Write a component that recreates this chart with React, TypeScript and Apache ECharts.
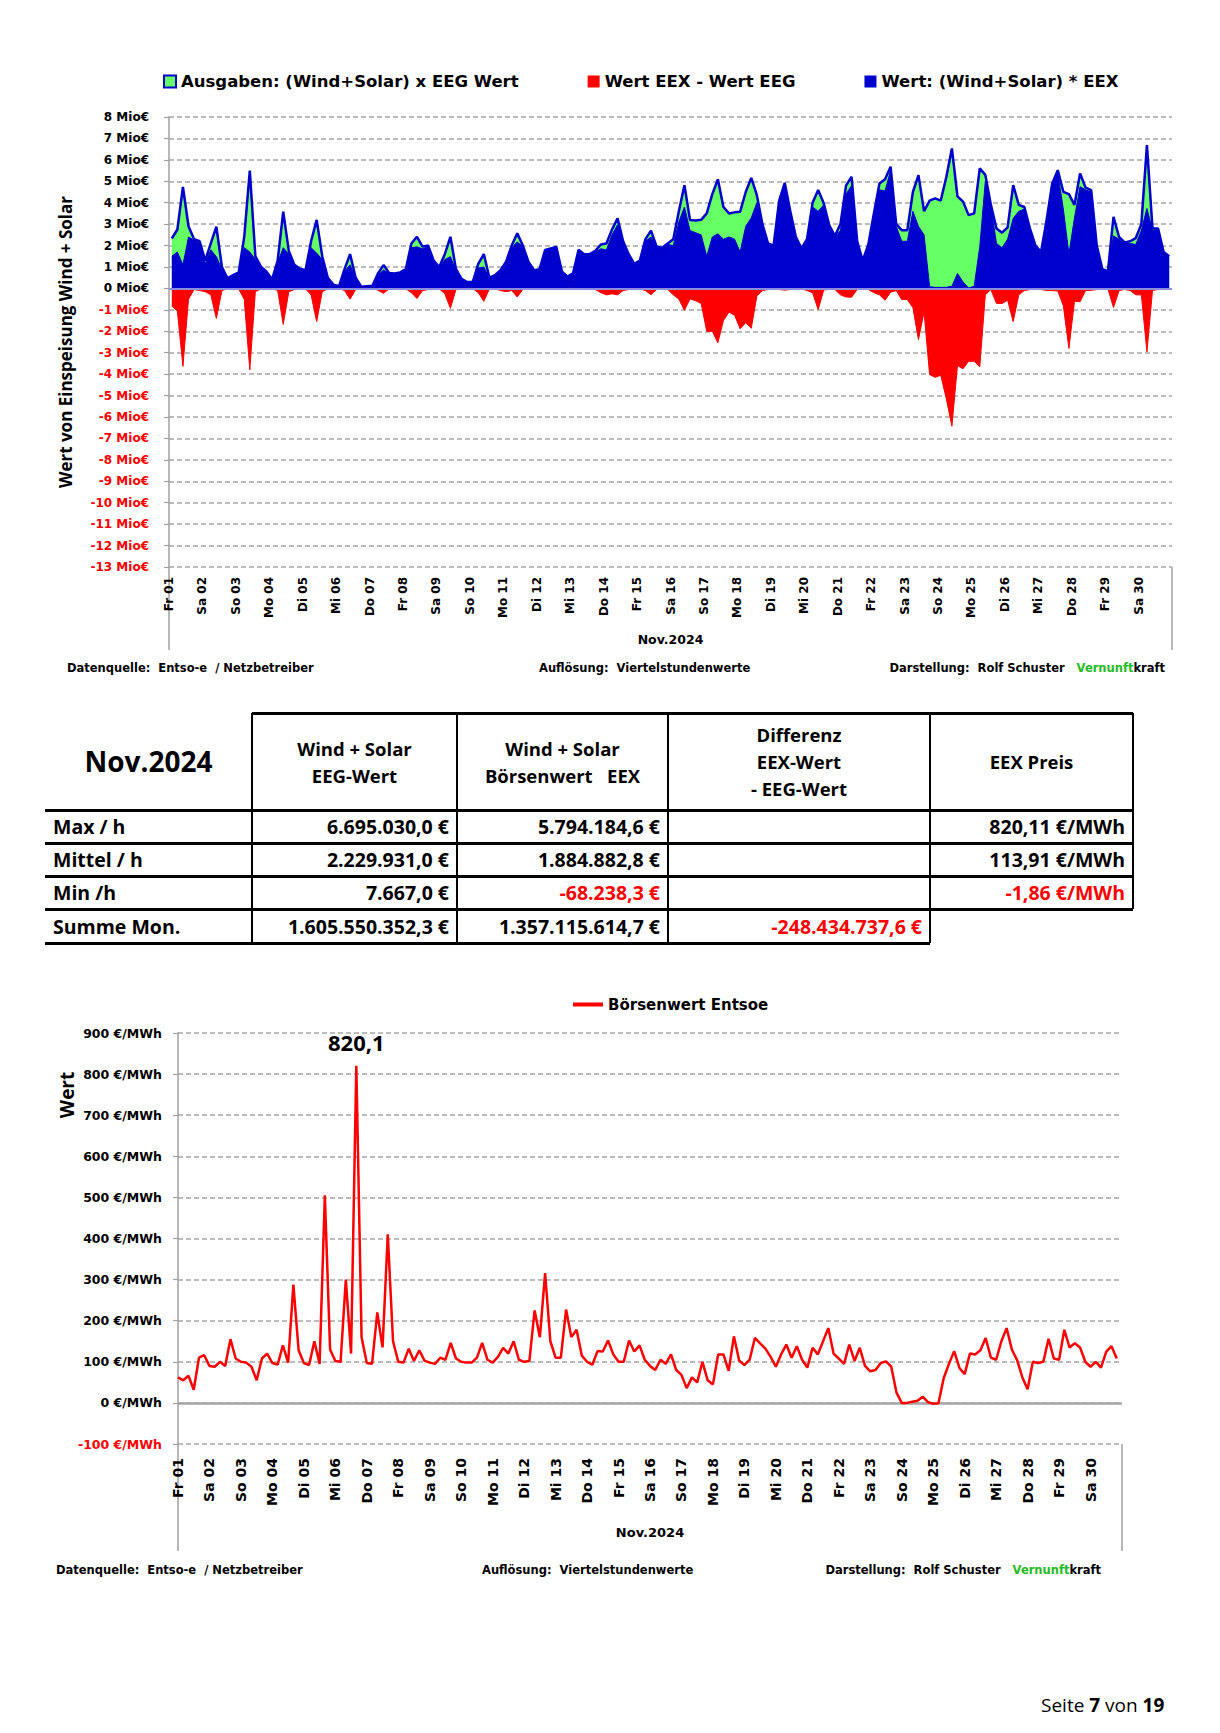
import React, { useEffect, useRef } from "react";
import * as echarts from "echarts";

// ---------- DATA ----------
const DAY_LABELS = [
  "Fr 01", "Sa 02", "So 03", "Mo 04", "Di 05", "Mi 06", "Do 07", "Fr 08", "Sa 09", "So 10",
  "Mo 11", "Di 12", "Mi 13", "Do 14", "Fr 15", "Sa 16", "So 17", "Mo 18", "Di 19", "Mi 20",
  "Do 21", "Fr 22", "Sa 23", "So 24", "Mo 25", "Di 26", "Mi 27", "Do 28", "Fr 29", "Sa 30",
];
const SAMPLES_PER_DAY = 6; // 4-hour samples

// Chart 1 (Mio €), samples at 02,06,10,14,18,22 h of each day
const EEG_WERT = [
  2.33, 2.75, 4.74, 2.9, 2.3, 2.2,
  1.3, 2.1, 2.88, 1.0, 0.47, 0.62,
  0.75, 2.4, 5.5, 1.5, 1.02, 0.78,
  0.42, 1.3, 3.58, 1.75, 1.1, 0.92,
  0.85, 2.2, 3.2, 1.5, 0.5, 0.18,
  0.1, 0.9, 1.6, 0.5, 0.08, 0.1,
  0.12, 0.7, 1.09, 0.72, 0.7, 0.75,
  0.9, 2.1, 2.41, 1.95, 2.0, 1.3,
  1.0, 1.6, 2.41, 0.9, 0.45, 0.3,
  0.3, 1.15, 1.6, 0.5, 0.62, 0.85,
  1.25, 2.0, 2.57, 2.0, 1.25, 0.85,
  0.9, 1.8, 1.87, 1.94, 0.8, 0.55,
  0.7, 1.8, 1.6, 1.6, 1.75, 2.05,
  2.1, 2.75, 3.27, 2.2, 1.6, 1.15,
  1.3, 2.3, 2.69, 1.95, 1.9, 2.1,
  2.3, 3.6, 4.82, 3.19, 3.17, 3.2,
  3.5, 4.4, 5.09, 3.8, 3.5, 3.55,
  3.58, 4.5, 5.16, 4.35, 3.0, 2.1,
  2.0, 4.1, 4.93, 3.6, 2.4, 1.87,
  2.3, 4.0, 4.59, 3.97, 2.95, 2.45,
  3.0, 4.8, 5.21, 2.2, 1.3, 2.05,
  3.5, 4.9, 5.1, 5.68, 3.0, 2.72,
  2.72, 4.5, 5.29, 3.6, 4.1, 4.2,
  4.1, 5.2, 6.53, 4.3, 4.05, 3.42,
  3.5, 5.6, 5.3, 3.9, 2.8, 2.6,
  2.85, 4.82, 3.9, 3.8, 2.8, 2.0,
  1.7, 3.2, 4.9, 5.52, 4.51, 4.4,
  3.9, 5.37, 4.7, 4.59, 2.0, 0.9,
  0.8, 3.34, 2.4, 2.15, 2.2, 2.35,
  3.0, 6.69, 2.8, 2.8, 1.7, 1.5,
];
const EEX_WERT = [
  1.5, 1.7, 1.1, 2.4, 2.25, 2.1,
  1.15, 1.8, 1.48, 0.9, 0.45, 0.6,
  0.72, 1.9, 1.7, 1.35, 1.0, 0.77,
  0.41, 1.2, 1.9, 1.6, 1.05, 0.9,
  0.83, 1.9, 1.65, 1.35, 0.48, 0.17,
  0.1, 0.8, 1.1, 0.45, 0.08, 0.1,
  0.12, 0.62, 0.86, 0.7, 0.68, 0.73,
  0.88, 1.9, 1.94, 1.85, 1.95, 1.25,
  0.98, 1.35, 1.48, 0.85, 0.44, 0.3,
  0.3, 0.95, 1.0, 0.48, 0.6, 0.75,
  1.1, 1.9, 2.17, 1.95, 1.22, 0.82,
  0.85, 1.75, 1.85, 1.9, 0.78, 0.55,
  0.7, 1.75, 1.55, 1.55, 1.7, 1.85,
  1.8, 2.5, 2.97, 2.1, 1.55, 1.12,
  1.28, 2.2, 2.4, 1.9, 1.85, 2.05,
  2.0, 3.1, 3.8, 2.7, 2.6, 2.5,
  1.5, 2.4, 2.55, 2.3, 2.4, 2.3,
  1.7, 2.9, 3.3, 4.0, 2.9, 2.05,
  2.0, 4.05, 4.85, 3.55, 2.38, 1.85,
  2.2, 3.8, 3.6, 3.9, 2.9, 2.4,
  2.7, 4.4, 4.8, 2.15, 1.28, 2.0,
  3.3, 4.6, 4.55, 5.5, 2.9, 2.2,
  2.2, 3.6, 2.9, 2.5, 0.08, 0.05,
  0.05, 0.05, 0.1, 0.7, 0.3, 0.02,
  0.1, 1.94, 5.0, 3.85, 2.1, 1.9,
  2.3, 3.27, 3.6, 3.7, 2.75, 1.95,
  1.65, 3.1, 4.8, 5.4, 3.7, 1.6,
  3.3, 4.75, 4.6, 4.5, 1.95, 0.88,
  0.78, 2.45, 2.3, 2.1, 2.1, 2.05,
  2.7, 3.73, 2.7, 2.75, 1.65, 1.45,
];

// Chart 2 (€/MWh), samples at 00,04,08,12,16,20 h of each day
const PRICE = [
  62, 55, 66, 32, 110, 116,
  90, 88, 100, 90, 155, 108,
  100, 98, 88, 55, 108, 120,
  97, 93, 140, 98, 288, 128,
  97, 92, 150, 95, 505, 130,
  102, 100, 300, 120, 820.1, 160,
  97, 95, 220, 135, 410, 150,
  100, 98, 132, 102, 128, 103,
  98, 95, 110, 105, 146, 108,
  100, 98, 98, 110, 146, 105,
  98, 112, 134, 120, 150, 105,
  100, 102, 225, 160, 316, 150,
  110, 110, 227, 160, 178, 115,
  100, 93, 126, 125, 152, 118,
  100, 100, 152, 125, 140, 105,
  90, 80, 105, 95, 118, 80,
  68, 36, 62, 50, 100, 55,
  45, 118, 118, 78, 162, 103,
  92, 105, 158, 145, 132, 112,
  88, 118, 142, 110, 138, 105,
  86, 134, 118, 150, 182, 120,
  108, 95, 142, 102, 134, 90,
  77, 80, 97, 101, 88, 25,
  0, 0, 3, 5, 15, 2,
  -2, -1, 60, 95, 126, 85,
  70, 120, 118, 128, 158, 110,
  105, 150, 182, 130, 104, 62,
  33, 100, 97, 100, 156, 108,
  105, 178, 135, 145, 135, 100,
  88, 100, 86, 125, 138, 108,
];

const SERIES_EEG = "Ausgaben: (Wind+Solar) x EEG Wert";
const SERIES_DIFF = "Wert EEX - Wert EEG";
const SERIES_EEX = "Wert: (Wind+Solar) * EEX";
const SERIES_PRICE = "Börsenwert Entsoe";

// Table
const TABLE_TITLE = "Nov.2024";
const TABLE_HEADERS = [
  ["Wind + Solar", "EEG-Wert"],
  ["Wind + Solar", "Börsenwert   EEX"],
  ["Differenz", "EEX-Wert", "- EEG-Wert"],
  ["EEX Preis"],
];
const ROW_LABELS = ["Max / h", "Mittel / h", "Min /h", "Summe Mon."];
const COL_EEG = ["6.695.030,0 €", "2.229.931,0 €", "7.667,0 €", "1.605.550.352,3 €"];
const COL_EEX = ["5.794.184,6 €", "1.884.882,8 €", "-68.238,3 €", "1.357.115.614,7 €"];
const COL_DIFF = ["", "", "", "-248.434.737,6 €"];
const COL_PRICE = ["820,11 €/MWh", "113,91 €/MWh", "-1,86 €/MWh", ""];

// ---------- STYLE ----------
const AX_FONT = "'DejaVu Sans', sans-serif";
const OS_FONT = "'Open Sans', sans-serif";
const GRID_COLOR = "#a6a6a6";
const AXIS_COLOR = "#a0a0a0";
const BLUE = "#0000cc";
const GREEN = "#66ff66";
const RED = "#ff0000";

function txt(x: number, y: number, text: string, opts: any = {}) {
  return {
    type: "text",
    x,
    y,
    silent: true,
    style: {
      text,
      fill: opts.fill || "#000",
      fontFamily: opts.fontFamily || AX_FONT,
      fontWeight: opts.fontWeight || "bold",
      fontSize: opts.fontSize || 11.5,
      textAlign: opts.align || "left",
      align: opts.align || "left",
      textVerticalAlign: "middle",
      verticalAlign: "middle",
      rich: opts.rich,
    },
  };
}

function footer(y: number, xLeft: number, xMid: number, xRight: number) {
  const rich = {
    a: { fontFamily: AX_FONT, fontWeight: "bold", fontSize: 11.5, fill: "#000", color: "#000" },
    g: { fontFamily: AX_FONT, fontWeight: "bold", fontSize: 11.5, fill: "#22bb22", color: "#22bb22" },
  };
  return [
    txt(xLeft, y, "Datenquelle:  Entso-e  / Netzbetreiber"),
    txt(xMid, y, "Auflösung:  Viertelstundenwerte"),
    txt(xRight, y, "{a|Darstellung:  Rolf Schuster   }{g|Vernunft}{a|kraft}", { align: "right", rich }),
  ];
}

function vline(x: number, y1: number, y2: number) {
  return {
    type: "line",
    silent: true,
    shape: { x1: x, y1, x2: x, y2 },
    style: { stroke: AXIS_COLOR, lineWidth: 1.5 },
  };
}

function useChart(option: any) {
  const ref = useRef<HTMLDivElement | null>(null);
  useEffect(() => {
    if (!ref.current) return;
    const chart = echarts.init(ref.current, null, { renderer: "svg" });
    chart.setOption(option);
    return () => chart.dispose();
  }, []);
  return ref;
}

function Chart1() {
  const xAt = (i: number) => (i + 0.5) / SAMPLES_PER_DAY;
  const eegData = EEG_WERT.map((v, i) => [xAt(i), v]);
  const eexData = EEX_WERT.map((v, i) => [xAt(i), v]);
  const diffData = EEX_WERT.map((v, i) => [xAt(i), Math.round((v - EEG_WERT[i]) * 1000) / 1000]);

  const gl = 169, gt = 117, gw = 1003, gh = 450;
  const option = {
    animation: false,
    legend: {
      left: 158,
      top: 68,
      itemGap: 69,
      itemWidth: 12,
      itemHeight: 12,
      textStyle: { fontFamily: AX_FONT, fontWeight: "bold", fontSize: 16.5, color: "#000" },
      data: [
        { name: SERIES_EEG, icon: "rect", itemStyle: { color: GREEN, borderColor: BLUE, borderWidth: 2 } },
        { name: SERIES_DIFF, icon: "rect", itemStyle: { color: RED, borderWidth: 0 } },
        { name: SERIES_EEX, icon: "rect", itemStyle: { color: BLUE, borderWidth: 0 } },
      ],
    },
    grid: { left: gl, top: gt, width: gw, height: gh },
    xAxis: {
      type: "value",
      min: 0,
      max: 30,
      interval: 1,
      axisLine: { show: false },
      axisTick: { show: false },
      splitLine: { show: false },
      axisLabel: {
        rotate: 90,
        margin: 10,
        fontFamily: AX_FONT,
        fontWeight: "bold",
        fontSize: 12,
        color: "#000",
        showMaxLabel: false,
        formatter: (v: number) => DAY_LABELS[Math.round(v)] ?? "",
      },
      name: "Nov.2024",
      nameLocation: "middle",
      nameGap: 66,
      nameTextStyle: { fontFamily: AX_FONT, fontWeight: "bold", fontSize: 12.5, color: "#000" },
    },
    yAxis: {
      type: "value",
      min: -13,
      max: 8,
      interval: 1,
      name: "Wert von Einspeisung Wind + Solar",
      nameLocation: "middle",
      nameGap: 95,
      nameTextStyle: { fontFamily: OS_FONT, fontWeight: "bold", fontSize: 17, color: "#000" },
      axisLine: { show: true, lineStyle: { color: AXIS_COLOR, width: 1.5 } },
      axisTick: { show: true, length: 5, lineStyle: { color: AXIS_COLOR, width: 1.2 } },
      axisLabel: {
        margin: 20,
        fontFamily: AX_FONT,
        fontWeight: "bold",
        fontSize: 12,
        color: (v: any) => (Number(v) < 0 ? RED : "#000"),
        formatter: (v: number) => `${v} Mio€`,
      },
      splitLine: { show: true, lineStyle: { type: [5, 3], color: GRID_COLOR, width: 1.5 } },
    },
    series: [
      {
        name: SERIES_EEG,
        type: "line",
        data: eegData,
        showSymbol: false,
        symbol: "none",
        z: 2,
        itemStyle: { color: GREEN },
        lineStyle: { color: BLUE, width: 2.5 },
        areaStyle: { color: GREEN, opacity: 1 },
      },
      {
        name: SERIES_EEX,
        type: "line",
        data: eexData,
        showSymbol: false,
        symbol: "none",
        z: 3,
        itemStyle: { color: BLUE },
        lineStyle: { color: BLUE, width: 1 },
        areaStyle: { color: BLUE, opacity: 1 },
      },
      {
        name: SERIES_DIFF,
        type: "line",
        data: diffData,
        showSymbol: false,
        symbol: "none",
        z: 4,
        itemStyle: { color: RED },
        lineStyle: { color: RED, width: 1 },
        areaStyle: { color: RED, opacity: 1 },
        markLine: {
          silent: true,
          symbol: "none",
          label: { show: false },
          lineStyle: { color: "#8c8cdc", width: 2, type: "solid" },
          data: [{ yAxis: 0 }],
        },
      },
    ],
    graphic: [
      vline(gl, gt + gh, 650),
      vline(gl + gw, gt + gh, 650),
      ...footer(668, 67, 539, 1165),
    ],
  };
  const ref = useChart(option);
  return <div ref={ref} style={{ position: "absolute", left: 0, top: 0, width: 1220, height: 700 }} />;
}

function Chart2() {
  const priceData = PRICE.map((v, i) => [i / SAMPLES_PER_DAY, v]);
  const gl = 178, gt = 73, gw = 944, gh = 411;
  const option = {
    animation: false,
    legend: {
      left: 568,
      top: 32,
      itemWidth: 30,
      itemHeight: 4,
      textStyle: { fontFamily: AX_FONT, fontWeight: "bold", fontSize: 15, color: "#000" },
      data: [{ name: SERIES_PRICE, icon: "rect", itemStyle: { color: RED } }],
    },
    grid: { left: gl, top: gt, width: gw, height: gh },
    xAxis: {
      type: "value",
      min: 0,
      max: 30,
      interval: 1,
      axisLine: { show: false },
      axisTick: { show: false },
      splitLine: { show: false },
      axisLabel: {
        rotate: 90,
        margin: 14,
        fontFamily: AX_FONT,
        fontWeight: "bold",
        fontSize: 14,
        color: "#000",
        showMaxLabel: false,
        formatter: (v: number) => DAY_LABELS[Math.round(v)] ?? "",
      },
      name: "Nov.2024",
      nameLocation: "middle",
      nameGap: 82,
      nameTextStyle: { fontFamily: AX_FONT, fontWeight: "bold", fontSize: 13, color: "#000" },
    },
    yAxis: {
      type: "value",
      min: -100,
      max: 900,
      interval: 100,
      axisLine: { show: true, lineStyle: { color: AXIS_COLOR, width: 1.5 } },
      axisTick: { show: true, length: 5, lineStyle: { color: AXIS_COLOR, width: 1.2 } },
      axisLabel: {
        margin: 16,
        fontFamily: AX_FONT,
        fontWeight: "bold",
        fontSize: 12.5,
        color: (v: any) => (Number(v) < 0 ? RED : "#000"),
        formatter: (v: number) => `${v} €/MWh`,
      },
      splitLine: { show: true, lineStyle: { type: [5, 3], color: GRID_COLOR, width: 1.5 } },
    },
    series: [
      {
        name: SERIES_PRICE,
        type: "line",
        data: priceData,
        showSymbol: false,
        symbol: "none",
        z: 3,
        itemStyle: { color: RED },
        lineStyle: { color: RED, width: 2.5 },
        markLine: {
          silent: true,
          symbol: "none",
          label: { show: false },
          z: 1,
          lineStyle: { color: "#a6a6a6", width: 2.5, type: "solid" },
          data: [{ yAxis: 0 }],
        },
        markPoint: {
          symbol: "circle",
          symbolSize: 1,
          silent: true,
          itemStyle: { color: "rgba(0,0,0,0)" },
          label: {
            show: true,
            position: "top",
            distance: 12,
            fontFamily: OS_FONT,
            fontWeight: "bold",
            fontSize: 22,
            color: "#000",
            formatter: (p: any) => String(p.value).replace(".", ","),
          },
          data: [{ type: "max", valueIndex: 1 }],
        },
      },
    ],
    graphic: [
      vline(gl, gt + gh, 591),
      vline(gl + gw, gt + gh, 591),
      {
        type: "text",
        x: 67,
        y: 135,
        rotation: Math.PI / 2,
        silent: true,
        style: {
          text: "Wert",
          fill: "#000",
          fontFamily: OS_FONT,
          fontWeight: "bold",
          fontSize: 19,
          textAlign: "center",
          align: "center",
          textVerticalAlign: "middle",
          verticalAlign: "middle",
        },
      },
      ...footer(610, 56, 482, 1101),
    ],
  };
  const ref = useChart(option);
  return <div ref={ref} style={{ position: "absolute", left: 0, top: 960, width: 1220, height: 640 }} />;
}

const C = [45, 252, 457, 668, 930, 1133];
const R = [713, 810, 843, 876, 909, 943];

function HLine({ x1, x2, y }: { x1: number; x2: number; y: number }) {
  return <div style={{ position: "absolute", left: x1, top: y - 1.5, width: x2 - x1, height: 3, background: "#000" }} />;
}
function VLine({ x, y1, y2 }: { x: number; y1: number; y2: number }) {
  return <div style={{ position: "absolute", left: x - 0.75, top: y1, width: 1.5, height: y2 - y1, background: "#000" }} />;
}

function Cell({ x1, x2, y1, y2, children, align = "right", size = 19.5, color = "#000" }: any) {
  return (
    <div
      style={{
        position: "absolute",
        left: x1,
        top: y1,
        width: x2 - x1,
        height: y2 - y1,
        display: "flex",
        alignItems: "center",
        justifyContent: align === "right" ? "flex-end" : align === "center" ? "center" : "flex-start",
        padding: align === "right" ? "0 8px 0 0" : align === "left" ? "0 0 0 8px" : 0,
        boxSizing: "border-box",
        fontFamily: OS_FONT,
        fontWeight: 700,
        fontSize: size,
        color,
        whiteSpace: "pre",
        textAlign: align,
        lineHeight: "27px",
      }}
    >
      {children}
    </div>
  );
}

function Table() {
  const cols = [COL_EEG, COL_EEX, COL_DIFF, COL_PRICE];
  return (
    <div>
      <HLine x1={C[1]} x2={C[5]} y={R[0]} />
      <HLine x1={C[0]} x2={C[5]} y={R[1]} />
      <HLine x1={C[0]} x2={C[5]} y={R[2]} />
      <HLine x1={C[0]} x2={C[5]} y={R[3]} />
      <HLine x1={C[0]} x2={C[5]} y={R[4]} />
      <HLine x1={C[0]} x2={C[4]} y={R[5]} />
      <VLine x={C[1]} y1={R[0]} y2={R[5]} />
      <VLine x={C[2]} y1={R[0]} y2={R[5]} />
      <VLine x={C[3]} y1={R[0]} y2={R[5]} />
      <VLine x={C[4]} y1={R[0]} y2={R[5]} />
      <VLine x={C[5]} y1={R[0]} y2={R[4]} />
      <Cell x1={C[0]} x2={C[1]} y1={R[0]} y2={R[1]} align="center" size={28}>
        {TABLE_TITLE}
      </Cell>
      {TABLE_HEADERS.map((lines, j) => (
        <Cell key={"h" + j} x1={C[j + 1]} x2={C[j + 2]} y1={R[0]} y2={R[1]} align="center" size={18.5}>
          {lines.join("\n")}
        </Cell>
      ))}
      {ROW_LABELS.map((lab, i) => (
        <React.Fragment key={"r" + i}>
          <Cell x1={C[0]} x2={C[1]} y1={R[i + 1]} y2={R[i + 2]} align="left" size={19.5}>
            {lab}
          </Cell>
          {cols.map((col, j) => (
            <Cell
              key={"c" + j}
              x1={C[j + 1]}
              x2={C[j + 2]}
              y1={R[i + 1]}
              y2={R[i + 2]}
              align="right"
              size={19.5}
              color={col[i].startsWith("-") ? RED : "#000"}
            >
              {col[i]}
            </Cell>
          ))}
        </React.Fragment>
      ))}
    </div>
  );
}

export default function App() {
  return (
    <div style={{ position: "absolute", left: 0, top: 0, width: 1220, height: 1733, background: "#fff", overflow: "hidden" }}>
      <Chart1 />
      <Table />
      <Chart2 />
      <div
        style={{
          position: "absolute",
          left: 1041,
          top: 1692,
          fontFamily: OS_FONT,
          fontSize: 19,
          color: "#000",
          whiteSpace: "pre",
        }}
      >
        Seite <b>7</b> von <b>19</b>
      </div>
    </div>
  );
}
